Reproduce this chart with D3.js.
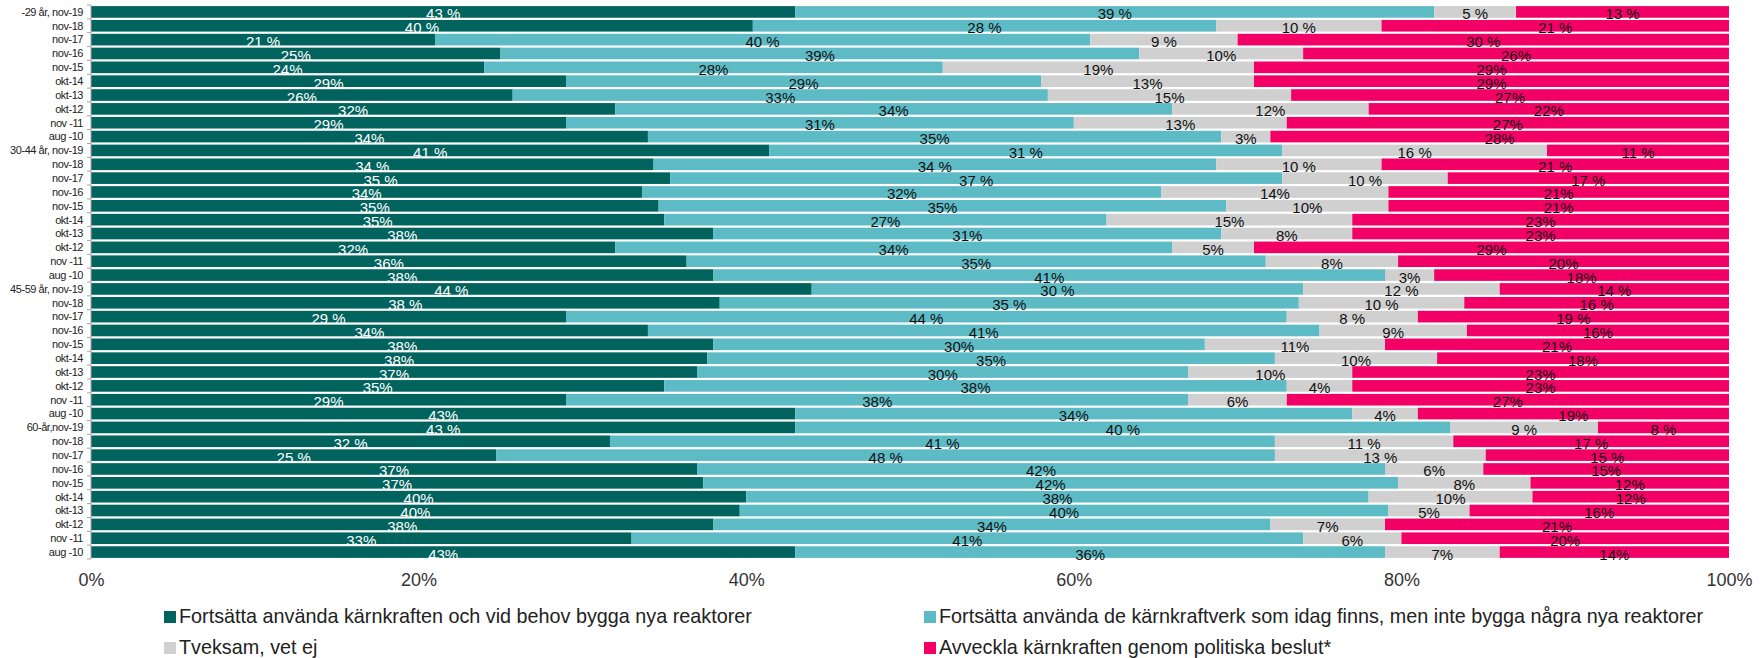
<!DOCTYPE html>
<html>
<head>
<meta charset="utf-8">
<title>Kärnkraft per åldersgrupp</title>
<script src="https://d3js.org/d3.v7.min.js"></script>
<style>
    body {
        margin: 0;
        background: #fff;
    }

    svg {
        font-family: "Liberation Sans", Arial, sans-serif;
    }

    .ylab {
        font-size: 11px;
        letter-spacing: -0.45px;
        fill: #222;
    }

    .seglab {
        font-size: 15px;
    }

    .xlab {
        font-size: 18px;
        fill: #333;
    }

    .legend text {
        font-size: 19.8px;
        fill: #222;
    }
</style>
</head>
<body>
<div id="chart"></div>
<script>
    // rows, top to bottom
    var rowLabels = [
        "-29 år, nov-19", "nov-18", "nov-17", "nov-16", "nov-15", "okt-14", "okt-13", "okt-12", "nov -11", "aug -10",
        "30-44 år, nov-19", "nov-18", "nov-17", "nov-16", "nov-15", "okt-14", "okt-13", "okt-12", "nov -11", "aug -10",
        "45-59 år, nov-19", "nov-18", "nov-17", "nov-16", "nov-15", "okt-14", "okt-13", "okt-12", "nov -11", "aug -10",
        "60-år,nov-19", "nov-18", "nov-17", "nov-16", "nov-15", "okt-14", "okt-13", "okt-12", "nov -11", "aug -10"
    ];

    var keepBuild = [43, 40, 21, 25, 24, 29, 26, 32, 29, 34,
        41, 34, 35, 34, 35, 35, 38, 32, 36, 38,
        44, 38, 29, 34, 38, 38, 37, 35, 29, 43,
        43, 32, 25, 37, 37, 40, 40, 38, 33, 43];
    var keepOnly = [39, 28, 40, 39, 28, 29, 33, 34, 31, 35,
        31, 34, 37, 32, 35, 27, 31, 34, 35, 41,
        30, 35, 44, 41, 30, 35, 30, 38, 38, 34,
        40, 41, 48, 42, 42, 38, 40, 34, 41, 36];
    var unsure = [5, 10, 9, 10, 19, 13, 15, 12, 13, 3,
        16, 10, 10, 14, 10, 15, 8, 5, 8, 3,
        12, 10, 8, 9, 11, 10, 10, 4, 6, 4,
        9, 11, 13, 6, 8, 10, 5, 7, 6, 7];
    var phaseOut = [13, 21, 30, 26, 29, 29, 27, 22, 27, 28,
        11, 21, 17, 21, 21, 23, 23, 29, 20, 18,
        14, 16, 19, 16, 21, 18, 23, 23, 27, 19,
        8, 17, 15, 15, 12, 12, 16, 21, 20, 14];

    var seriesNames = [
        "Fortsätta använda kärnkraften och vid behov bygga nya reaktorer",
        "Fortsätta använda de kärnkraftverk som idag finns, men inte bygga några nya reaktorer",
        "Tveksam, vet ej",
        "Avveckla kärnkraften genom politiska beslut*"
    ];
    var seriesColors = ["#00635E", "#5DBBC5", "#D0D0D0", "#F30066"];
    var labelColors = ["#fff", "#111", "#111", "#111"];

    var xTicks = [0, 0.2, 0.4, 0.6, 0.8, 1];
    // the three latest surveys are written "43 %", older ones "43%"
    var spacedSurveys = ["nov-19", "nov-18", "nov-17"];

    var width = 1764;
    var height = 658;
    var margin = { top: 5, right: 35, bottom: 99, left: 91 };

    var keys = ["a", "b", "c", "d"];
    var rows = rowLabels.map(function(l, i) {
        return { idx: i, label: l, a: keepBuild[i], b: keepOnly[i], c: unsure[i], d: phaseOut[i] };
    });

    var stacked = d3.stack()
        .keys(keys)
        .offset(d3.stackOffsetExpand)(rows);

    /* Scales */
    var xScale = d3.scaleLinear()
        .domain([0, 1])
        .range([margin.left, width - margin.right]);

    var yScale = d3.scaleBand()
        .domain(rows.map(d => d.idx))
        .range([margin.top, height - margin.bottom])
        .paddingInner(0.16)
        .paddingOuter(0.08);

    var svg = d3.select("#chart").append("svg")
        .attr("width", width)
        .attr("height", height);

    /* Bars */
    var layers = svg.append("g").selectAll("g")
        .data(stacked).enter()
        .append("g")
        .style("fill", (d, i) => seriesColors[i]);

    layers.selectAll("rect")
        .data(d => d).enter()
        .append("rect")
        .attr("x", d => xScale(d[0]))
        .attr("y", d => yScale(d.data.idx))
        .attr("width", d => xScale(d[1]) - xScale(d[0]))
        .attr("height", yScale.bandwidth());

    /* Segment labels */
    var labelLayers = svg.append("g").selectAll("g")
        .data(stacked).enter()
        .append("g")
        .attr("class", "seglab")
        .style("fill", (d, i) => labelColors[i]);

    labelLayers.selectAll("text")
        .data(d => d.map(p => ({ p: p, key: d.key }))).enter()
        .append("text")
        .attr("x", d => (xScale(d.p[0]) + xScale(d.p[1])) / 2)
        .attr("y", d => yScale(d.p.data.idx) + yScale.bandwidth() / 2)
        .attr("dy", "0.5em")
        .attr("text-anchor", "middle")
        .text(function(d) {
            var row = d.p.data;
            var spaced = spacedSurveys.some(s => row.label.endsWith(s));
            return row[d.key] + (spaced ? " %" : "%");
        });

    /* Y axis */
    var yAxis = svg.append("g");
    yAxis.append("line")
        .attr("x1", margin.left).attr("x2", margin.left)
        .attr("y1", margin.top).attr("y2", height - margin.bottom)
        .attr("stroke", "#A6A6A6");

    var step = yScale.step();
    yAxis.selectAll(".tick")
        .data(d3.range(rows.length + 1)).enter()
        .append("line")
        .attr("x1", margin.left - 4).attr("x2", margin.left)
        .attr("y1", i => margin.top + i * step)
        .attr("y2", i => margin.top + i * step)
        .attr("stroke", "#A6A6A6");

    yAxis.selectAll("text")
        .data(rows).enter()
        .append("text")
        .attr("class", "ylab")
        .attr("x", margin.left - 8)
        .attr("y", d => yScale(d.idx) + yScale.bandwidth() / 2)
        .attr("dy", "0.35em")
        .attr("text-anchor", "end")
        .text(d => d.label);

    /* X axis */
    var xAxis = d3.axisBottom(xScale)
        .tickValues(xTicks)
        .tickFormat(d3.format(".0%"))
        .tickSize(0)
        .tickPadding(14);

    var xg = svg.append("g")
        .attr("transform", `translate(0, ${height - margin.bottom})`)
        .call(xAxis);
    xg.select(".domain").remove();
    xg.selectAll("text")
        .attr("class", "xlab")
        .attr("font-family", null)
        .attr("font-size", null)
        .attr("fill", null);

    /* Legend */
    var legendPos = [[164, 617], [924, 617], [164, 648], [924, 648]];
    var legend = svg.append("g").attr("class", "legend")
        .selectAll("g")
        .data(seriesNames).enter()
        .append("g")
        .attr("transform", (d, i) => `translate(${legendPos[i][0]}, ${legendPos[i][1]})`);

    legend.append("rect")
        .attr("x", 0).attr("y", -6)
        .attr("width", 12).attr("height", 12)
        .style("fill", (d, i) => seriesColors[i]);

    legend.append("text")
        .attr("x", 15)
        .attr("dy", "0.3em")
        .text(d => d);
</script>
</body>
</html>
